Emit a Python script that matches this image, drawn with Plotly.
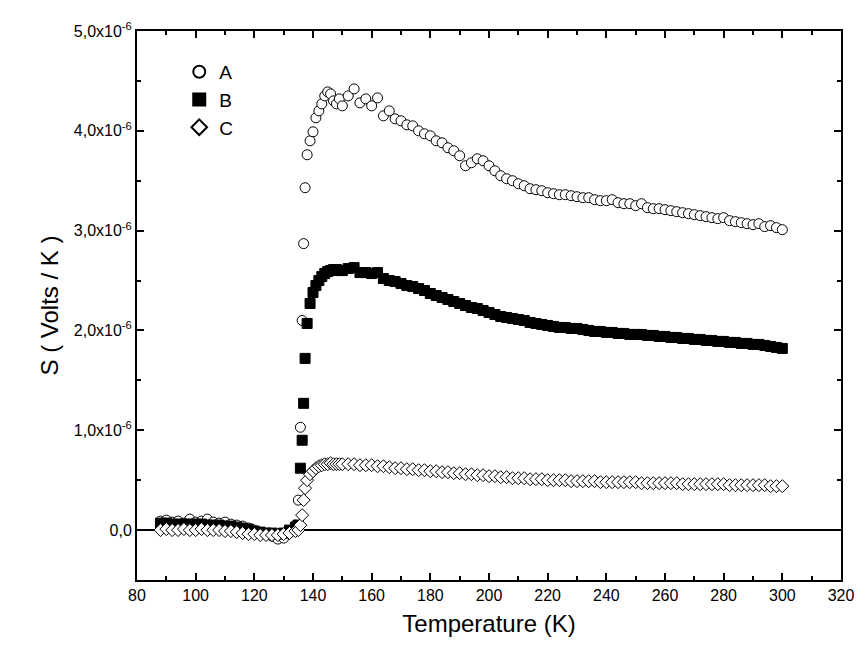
import plotly.graph_objects as go

# temperatura (K)
T = [88, 90, 92, 94, 96, 98, 100, 102, 104, 106, 108, 110, 112, 114, 116, 118, 120, 122, 124, 126, 128, 130, 132, 134,
     135, 135.7, 136.3, 136.8, 137.3, 138, 139, 140, 141, 142, 143, 144, 145, 146, 147, 148, 149] + list(range(150, 301, 2))

# S em unidades de 1e-6 V/K
A = [0.09, 0.10, 0.08, 0.09, 0.07, 0.11, 0.08, 0.09, 0.11, 0.08, 0.07, 0.08, 0.06, 0.05, 0.04, 0.02, 0.0, -0.03, -0.04, -0.06, -0.09, -0.08, -0.02, 0.05,
     0.3, 1.03, 2.1, 2.87, 3.43, 3.76, 3.9, 3.99, 4.13, 4.2, 4.27, 4.35, 4.39, 4.37, 4.3, 4.27, 4.32,
     4.25, 4.35, 4.42, 4.28, 4.32, 4.25, 4.33, 4.15, 4.2, 4.12, 4.1, 4.06, 4.05, 4.0, 3.97, 3.95, 3.9, 3.88, 3.83, 3.8,
     3.75, 3.65, 3.68, 3.72, 3.7, 3.65, 3.6, 3.55, 3.52, 3.5, 3.47, 3.45, 3.42, 3.41, 3.4, 3.38, 3.37, 3.36, 3.36, 3.35,
     3.34, 3.33, 3.33, 3.31, 3.3, 3.3, 3.31, 3.28, 3.27, 3.27, 3.25, 3.27, 3.23, 3.22, 3.22, 3.21, 3.2, 3.19, 3.18, 3.17,
     3.16, 3.15, 3.14, 3.13, 3.12, 3.13, 3.1, 3.09, 3.08, 3.07, 3.06, 3.07, 3.04, 3.05, 3.03, 3.01]

B = [0.07, 0.07, 0.06, 0.06, 0.06, 0.06, 0.06, 0.06, 0.05, 0.05, 0.05, 0.04, 0.04, 0.03, 0.02, 0.01, -0.01, -0.02, -0.03, -0.03, -0.04, -0.03, 0.0, 0.03,
     0.05, 0.62, 0.9, 1.27, 1.72, 2.07, 2.27, 2.38, 2.45, 2.5, 2.54, 2.57, 2.59, 2.6, 2.61, 2.61, 2.6,
     2.6, 2.62, 2.63, 2.58, 2.58, 2.57, 2.58, 2.52, 2.5, 2.49, 2.47, 2.45, 2.44, 2.42, 2.4, 2.37, 2.35, 2.33, 2.31, 2.29,
     2.27, 2.25, 2.23, 2.22, 2.2, 2.18, 2.16, 2.14, 2.13, 2.12, 2.11, 2.1, 2.08, 2.07, 2.06, 2.05, 2.04, 2.03, 2.03, 2.02,
     2.02, 2.01, 2.0, 1.99, 1.99, 1.98, 1.98, 1.97, 1.97, 1.96, 1.96, 1.96, 1.95, 1.95, 1.94, 1.94, 1.93, 1.93, 1.92, 1.92,
     1.91, 1.91, 1.9, 1.9, 1.89, 1.89, 1.88, 1.88, 1.87, 1.87, 1.86, 1.86, 1.85, 1.84, 1.83, 1.82]

C = [0.0, 0.01, 0.0, 0.0, 0.01, 0.0, 0.0, 0.01, 0.0, 0.0, 0.0, -0.01, -0.01, -0.02, -0.03, -0.04, -0.04, -0.05, -0.05, -0.05, -0.05, -0.04, -0.03, -0.01,
     0.0, 0.05, 0.15, 0.3, 0.42, 0.5, 0.56, 0.59, 0.62, 0.64, 0.65, 0.66, 0.66, 0.67, 0.66, 0.66, 0.66,
     0.66, 0.66, 0.66, 0.65, 0.65, 0.65, 0.64, 0.64, 0.63, 0.62, 0.62,
     0.61, 0.61, 0.6, 0.6, 0.59, 0.59, 0.58, 0.58, 0.57, 0.57, 0.56, 0.56, 0.55, 0.55, 0.54,
     0.54, 0.53, 0.53, 0.52, 0.52, 0.52, 0.51, 0.51, 0.51, 0.50, 0.50, 0.50, 0.50, 0.49, 0.49, 0.49, 0.49, 0.49, 0.48, 0.48,
     0.48, 0.48, 0.48, 0.48, 0.48, 0.47, 0.47, 0.47, 0.47, 0.47, 0.47, 0.47, 0.46, 0.46, 0.46, 0.46, 0.46, 0.46, 0.46, 0.46,
     0.45, 0.45, 0.45, 0.45, 0.45, 0.45, 0.45, 0.44, 0.44, 0.44]

y_ticks = [0, 1, 2, 3, 4, 5]
y_labels = ["0,0", "1,0x10<sup>-6</sup>", "2,0x10<sup>-6</sup>", "3,0x10<sup>-6</sup>",
            "4,0x10<sup>-6</sup>", "5,0x10<sup>-6</sup>"]

fig = go.Figure()
estilos = [("A", A, "circle", "white"), ("B", B, "square", "black"), ("C", C, "diamond", "white")]
for nome, vals, simb, cor in estilos:
    fig.add_trace(go.Scatter(
        x=T, y=vals, name=nome, mode="markers",
        marker=dict(symbol=simb, size=10, color=cor, line=dict(width=1, color="black")),
    ))

eixo = dict(showline=True, linecolor="black", linewidth=2, mirror="ticks", ticks="inside",
            ticklen=7, tickcolor="black", tickwidth=1.5, showgrid=False,
            tickfont=dict(size=16, color="black"))

fig.update_layout(
    width=866, height=648,
    margin=dict(l=129, r=33, t=16, b=76),
    plot_bgcolor="white", paper_bgcolor="white",
    font=dict(family="Liberation Sans, Arial, sans-serif", color="black"),
    xaxis=dict(eixo, range=[80, 320], dtick=20, title=dict(text="Temperature (K)", font=dict(size=24), standoff=12),
               minor=dict(dtick=10, ticks="inside", ticklen=4, tickcolor="black")),
    yaxis=dict(eixo, range=[-0.5, 5], tickvals=y_ticks, ticktext=y_labels,
               title=dict(text="S ( Volts / K )", font=dict(size=24), standoff=8),
               zeroline=True, zerolinecolor="black", zerolinewidth=2,
               minor=dict(dtick=0.5, ticks="inside", ticklen=4, tickcolor="black")),
    legend=dict(x=0.06, y=0.96, xanchor="left", yanchor="top", bgcolor="rgba(0,0,0,0)",
                font=dict(size=19), itemsizing="constant", tracegroupgap=2),
    showlegend=True,
)

fig.write_html("out.html")
